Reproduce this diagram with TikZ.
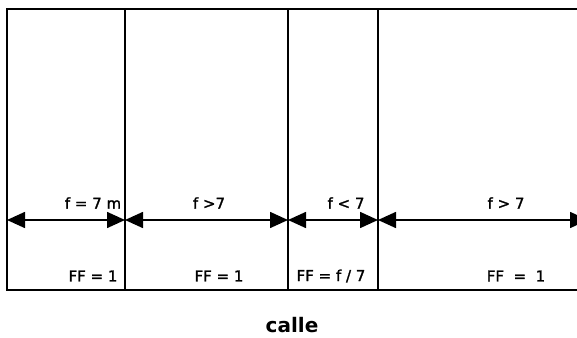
\documentclass[tikz,border=0pt]{standalone}
\usepackage{fontspec}
\setmainfont{DejaVu Sans}
\newfontfamily\lblfont[FakeBold=1.5]{DejaVu Sans}
\usetikzlibrary{arrows.meta}
\begin{document}
\begin{tikzpicture}[x=1pt,y=1pt,
  wall/.style={line width=1.8pt},
  dimline/.style={line width=1.6pt,
    {Triangle[length=18pt,width=16pt]}-{Triangle[length=18pt,width=16pt]}},
  lbl/.style={font=\lblfont\fontsize{15}{17}\selectfont, inner sep=0pt},
  street/.style={font=\fontsize{20}{24}\selectfont\bfseries, inner sep=0pt},
]
\useasboundingbox (0,0) rectangle (577,337);

% frontage outline and lot dividers
\coordinate (tl) at (7,328);   \coordinate (tr) at (577,328);
\coordinate (bl) at (7,47);    \coordinate (br) at (577,47);
\coordinate (d1t) at (125,328); \coordinate (d1b) at (125,47);
\coordinate (d2t) at (288,328); \coordinate (d2b) at (288,47);
\coordinate (d3t) at (378,328); \coordinate (d3b) at (378,47);

\draw[wall] (tr) -- (tl) -- (bl) -- (br);
\draw[wall] (d1t) -- (d1b);
\draw[wall] (d2t) -- (d2b);
\draw[wall] (d3t) -- (d3b);

% frontage dimension lines
\coordinate (a0) at (7,117);
\coordinate (a1) at (125,117);
\coordinate (a2) at (288,117);
\coordinate (a3) at (378,117);
\coordinate (a4) at (588,117);

\draw[dimline] (a0) -- (a1);
\draw[dimline] (a1) -- (a2);
\draw[dimline] (a2) -- (a3);
\draw[dimline] (a3) -- (a4);

% frontage labels
\node[lbl] (f1) at (93,134) {f = 7 m};
\node[lbl] (f2) at (209,134) {f >7};
\node[lbl] (f3) at (346,134) {f < 7};
\node[lbl] (f4) at (506,134) {f > 7};

% frontage factor labels
\node[lbl] (ff1) at (93,61) {FF = 1};
\node[lbl] (ff2) at (219,61) {FF = 1};
\node[lbl] (ff3) at (331,61) {FF = f / 7};
\node[lbl] (ff4) at (516,61) {FF \ = \ 1};

\node[street] (calle) at (292,12) {calle};
\end{tikzpicture}
\end{document}
